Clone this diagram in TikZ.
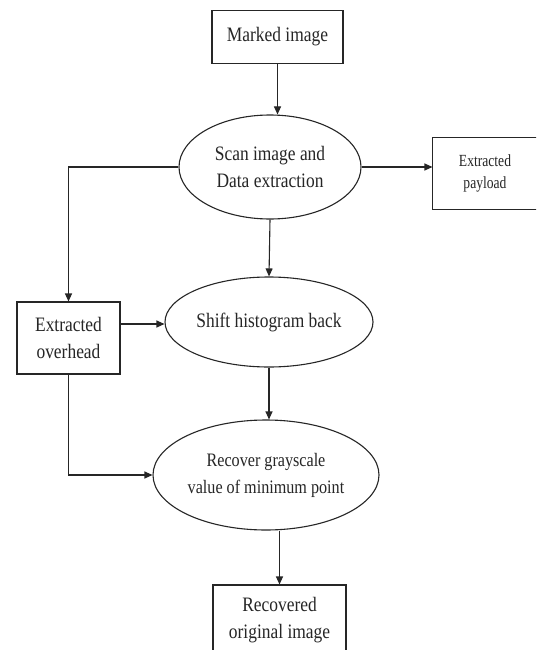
\documentclass[tikz,border=0pt]{standalone}
\usepackage{fontspec}
\usetikzlibrary{shapes.geometric,arrows.meta}
\newfontfamily\tfont[FakeStretch=0.85]{Liberation Serif}
\newfontfamily\tsmall[FakeStretch=0.8]{Liberation Serif}
\begin{document}
\begin{tikzpicture}[x=1pt,y=-1pt,
  line width=1.1pt, draw={black!85}, text={black!85},
  box/.style={draw, rectangle, inner sep=0pt, align=center, font=\fontsize{20.5}{27}\tfont},
  oval/.style={draw, ellipse, inner sep=0pt, align=center, font=\fontsize{20.5}{27}\tfont},
  arr/.style={-{Triangle[length=8pt,width=7pt]}}]
\useasboundingbox (0,0) rectangle (536,650);
\clip (0,0) rectangle (536,650);
\fill[white] (0,0) rectangle (536,650);
\node[box, minimum width=131pt, minimum height=53pt] (mark) at (277.5,37) {Marked image};
\node[oval, minimum width=182pt, minimum height=104pt] (scan) at (270,167) {Scan image and\\Data extraction};
\node[box, draw=none, minimum width=104pt, minimum height=71pt, font=\fontsize{17}{22}\tsmall] (pay) at (485,173.5) {Extracted\\payload};
\draw ([xshift=30pt]pay.north east) -- (pay.north west) -- (pay.south west) -- ([xshift=30pt]pay.south east);
\node[box, minimum width=103pt, minimum height=72pt] (over) at (68.5,338) {Extracted\\overhead};
\node[oval, minimum width=208pt, minimum height=90pt] (shift) at (269,322) {Shift histogram back};
\node[oval, minimum width=226pt, minimum height=110pt, font=\fontsize{19}{27}\tfont] (rec) at (266,475) {Recover grayscale\\value of minimum point};
\node[box, minimum width=133pt, minimum height=70pt] (out) at (279.5,620) {Recovered\\original image};
\draw[arr] (mark.south) -- (mark.south |- scan.north);
\draw[arr] (scan.west) -| (over.north);
\draw[arr] (scan.east) -- (scan.east -| pay.west);
\draw[arr] (scan.south) -- (shift.north);
\draw[arr] ([yshift=14pt]over.east) -- ([yshift=14pt]over.east -| shift.west);
\draw[arr] (over.south) |- (rec.west);
\draw[arr] (shift.south) -- (shift.south |- rec.north);
\draw[arr] (rec.south -| out.north) -- (out.north);
\end{tikzpicture}
\end{document}
